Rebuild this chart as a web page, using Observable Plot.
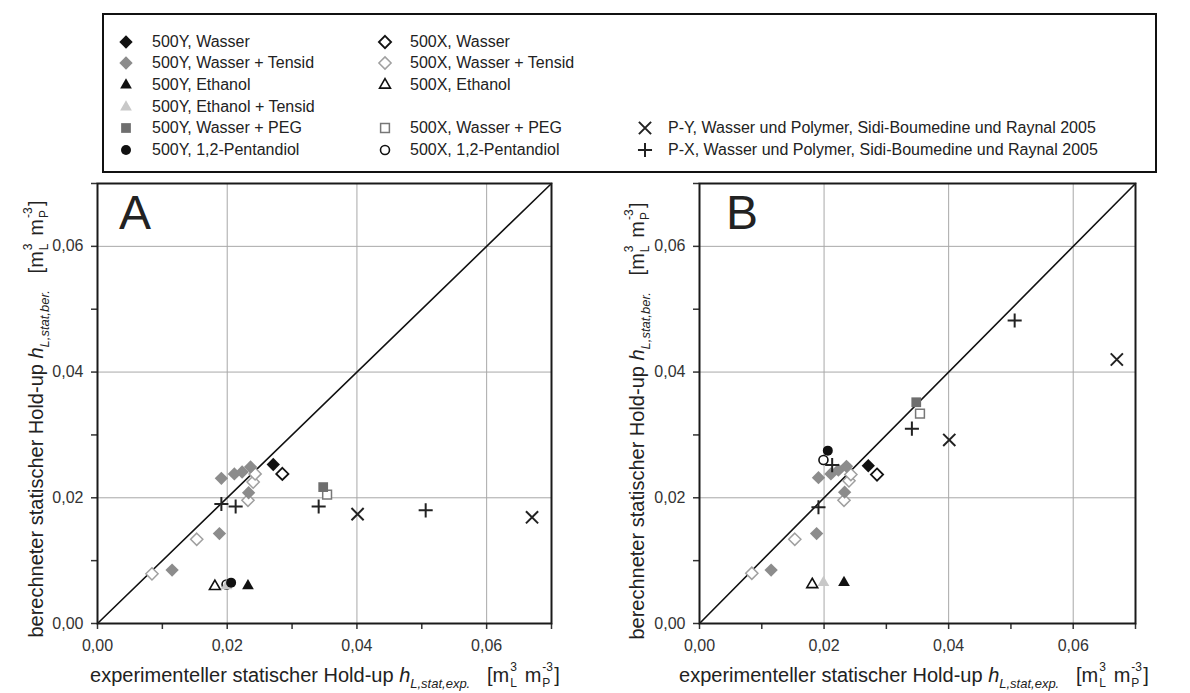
<!DOCTYPE html>
<html><head><meta charset="utf-8">
<script src="https://cdn.jsdelivr.net/npm/d3@7"></script>
<script src="https://cdn.jsdelivr.net/npm/@observablehq/plot@0.6"></script>
<style>
body{margin:0;background:#fff;font-family:"Liberation Sans",Arial,sans-serif;color:#222;}
#root{position:relative;width:1190px;height:693px;overflow:hidden;background:#fff;}
#legendbox{position:absolute;left:102px;top:13px;width:1055px;height:160px;border:2px solid #111;box-sizing:border-box;}
.li{position:absolute;font-size:16px;white-space:nowrap;line-height:20px;height:20px;color:#222;}
.ls{position:absolute;}
.panel{position:absolute;}
.lab{position:absolute;font-size:48px;line-height:48px;color:#222;}
.tt{position:absolute;font-size:20px;white-space:nowrap;line-height:24px;height:24px;text-align:center;color:#222;}
.tt i{font-style:italic;}
.sb{font-size:13px;font-style:italic;position:relative;top:6px;}
.ss{display:inline-block;position:relative;width:10px;height:20px;}
.ss .u{position:absolute;left:1px;top:-1px;font-size:12px;line-height:12px;}
.ss .d{position:absolute;left:1px;top:15px;font-size:12px;line-height:12px;}
.rot{transform-origin:0 0;}
</style></head>
<body><div id="root"><div id="legendbox"></div></div>
<script>
// ---------------- data ----------------
const seriesNames = [
  "500Y, Wasser", "500Y, Wasser + Tensid", "500Y, Ethanol", "500Y, Ethanol + Tensid",
  "500Y, Wasser + PEG", "500Y, 1,2-Pentandiol",
  "500X, Wasser", "500X, Wasser + Tensid", "500X, Ethanol",
  "500X, Wasser + PEG", "500X, 1,2-Pentandiol",
  "P-Y, Wasser und Polymer, Sidi-Boumedine und Raynal 2005",
  "P-X, Wasser und Polymer, Sidi-Boumedine und Raynal 2005"
];
// experimental hold-up (x), calculated hold-up panel A (yA) and panel B (yB)
const yWasser_x = [0.0271], yWasser_A = [0.0253], yWasser_B = [0.0251];
const yTensid_x = [0.0115, 0.0188, 0.0191, 0.0211, 0.0223, 0.0236, 0.0233];
const yTensid_A = [0.0085, 0.0143, 0.0231, 0.0238, 0.0241, 0.0249, 0.0208];
const yTensid_B = [0.0085, 0.0143, 0.0232, 0.0238, 0.0244, 0.0250, 0.0209];
const yEthanol_x = [0.0232], yEthanol_A = [0.0060], yEthanol_B = [0.0065];
const yEthTens_x = [0.0199], yEthTens_A = [0.0060], yEthTens_B = [0.0065];
const yPEG_x = [0.0348], yPEG_A = [0.0217], yPEG_B = [0.0352];
const yPent_x = [0.0206], yPent_A = [0.0065], yPent_B = [0.0275];
const xWasser_x = [0.0285], xWasser_A = [0.0238], xWasser_B = [0.0237];
const xTensid_x = [0.0084, 0.0153, 0.0232, 0.0240, 0.0243];
const xTensid_A = [0.0079, 0.0134, 0.0196, 0.0225, 0.0238];
const xTensid_B = [0.0080, 0.0134, 0.0196, 0.0227, 0.0237];
const xEthanol_x = [0.0181], xEthanol_A = [0.0059], xEthanol_B = [0.0062];
const xPEG_x = [0.0354], xPEG_A = [0.0205], xPEG_B = [0.0334];
const xPent_x = [0.0199], xPent_A = [0.0062], xPent_B = [0.0260];
const pY_x = [0.0401, 0.0670], pY_A = [0.0174, 0.0169], pY_B = [0.0292, 0.0420];
const pX_x = [0.0191, 0.0213, 0.0341, 0.0506], pX_A = [0.0190, 0.0186, 0.0186, 0.0180], pX_B = [0.0185, 0.0252, 0.0310, 0.0482];

const axisDomain = [0, 0.07];
const majorTicks = [0, 0.02, 0.04, 0.06];
const minorTicks = [0.01, 0.03, 0.05, 0.07];
const gridTicks = [0.02, 0.04, 0.06];
const tickLabels = ["0,00", "0,02", "0,04", "0,06"];

// ---------------- styles ----------------
const series = [
  {name: seriesNames[0],  x: yWasser_x,  A: yWasser_A,  B: yWasser_B},
  {name: seriesNames[1],  x: yTensid_x,  A: yTensid_A,  B: yTensid_B},
  {name: seriesNames[2],  x: yEthanol_x, A: yEthanol_A, B: yEthanol_B},
  {name: seriesNames[3],  x: yEthTens_x, A: yEthTens_A, B: yEthTens_B},
  {name: seriesNames[4],  x: yPEG_x,     A: yPEG_A,     B: yPEG_B},
  {name: seriesNames[5],  x: yPent_x,    A: yPent_A,    B: yPent_B},
  {name: seriesNames[6],  x: xWasser_x,  A: xWasser_A,  B: xWasser_B},
  {name: seriesNames[7],  x: xTensid_x,  A: xTensid_A,  B: xTensid_B},
  {name: seriesNames[8],  x: xEthanol_x, A: xEthanol_A, B: xEthanol_B},
  {name: seriesNames[9],  x: xPEG_x,     A: xPEG_A,     B: xPEG_B},
  {name: seriesNames[10], x: xPent_x,    A: xPent_A,    B: xPent_B},
  {name: seriesNames[11], x: pY_x,       A: pY_A,       B: pY_B},
  {name: seriesNames[12], x: pX_x,       A: pX_A,       B: pX_B}
];
const style = [
  {symbol: "diamond2", r: 6,   fill: "#111",    stroke: "none"},
  {symbol: "diamond2", r: 6,   fill: "#8c8c8c", stroke: "none"},
  {symbol: "triangle2",r: 5.6, fill: "#111",    stroke: "none"},
  {symbol: "triangle2",r: 5.6, fill: "#c8c8c8", stroke: "none"},
  {symbol: "square2",  r: 6.2, fill: "#6e6e6e", stroke: "none"},
  {symbol: "circle",   r: 5,   fill: "#111",    stroke: "none"},
  {symbol: "diamond2", r: 5.5, fill: "#fff",    stroke: "#111",    sw: 1.8},
  {symbol: "diamond2", r: 5.5, fill: "#fff",    stroke: "#a0a0a0", sw: 1.5},
  {symbol: "triangle2",r: 5.2, fill: "#fff",    stroke: "#111",    sw: 1.6},
  {symbol: "square2",  r: 5.6, fill: "#fff",    stroke: "#777",    sw: 1.5},
  {symbol: "circle",   r: 4.5, fill: "#fff",    stroke: "#111",    sw: 1.6},
  {symbol: "times",    r: 5.6, fill: "none",    stroke: "#222",    sw: 2},
  {symbol: "plus",     r: 4.6, fill: "none",    stroke: "#222",    sw: 2}
];
// drawing order: open (500X) under filled (500Y), crosses on top
const drawOrder = [6, 7, 8, 9, 10, 1, 0, 2, 3, 4, 5, 11, 12];

const fmt = d => tickLabels[majorTicks.indexOf(d)] ?? "";
const FONT = "'Liberation Sans', Arial, sans-serif";

function makePanel(key, opt) {
  const marks = [
    Plot.gridX({ticks: gridTicks, stroke: "#a8a8a8", strokeOpacity: 1, strokeWidth: 1}),
    Plot.gridY({ticks: gridTicks, stroke: "#a8a8a8", strokeOpacity: 1, strokeWidth: 1}),
    Plot.axisX({ticks: majorTicks, tickSize: 6, tickPadding: 10, tickFormat: fmt, label: null, color: "#333", strokeWidth: 1.5, fontSize: 16}),
    Plot.axisX({ticks: minorTicks, tickSize: 6, tickFormat: () => "", label: null, color: "#333", strokeWidth: 1.5}),
    Plot.axisY({ticks: majorTicks, tickSize: 6, tickPadding: 8, tickFormat: fmt, label: null, color: "#333", strokeWidth: 1.5, fontSize: 16}),
    Plot.axisY({ticks: minorTicks, tickSize: 6, tickFormat: () => "", label: null, color: "#333", strokeWidth: 1.5}),
    Plot.line(axisDomain, {x: d => d, y: d => d, stroke: "#111", strokeWidth: 1.6}),
  ];
  for (const i of drawOrder) {
    const s = series[i], st = style[i];
    const data = s.x.map((v, j) => ({x: v, y: s[key][j]}));
    marks.push(Plot.dot(data, {x: "x", y: "y", symbol: () => st.symbol, r: st.r,
      fill: st.fill, stroke: st.stroke, strokeWidth: st.sw || 1}));
  }
  marks.push(Plot.frame({stroke: "#1a1a1a", strokeWidth: 2}));
  return Plot.plot({
    width: opt.width, height: opt.height,
    marginLeft: opt.ml, marginRight: opt.mr, marginTop: opt.mt, marginBottom: opt.mb,
    x: {domain: axisDomain},
    y: {domain: axisDomain},
    symbol: {type: "identity"},
    style: {fontFamily: FONT, fontSize: "16px", background: "transparent", overflow: "visible"},
    marks
  });
}

const root = document.getElementById("root");
function place(el, left, top) {
  el.classList.add("panel");
  el.style.left = left + "px"; el.style.top = top + "px";
  root.appendChild(el);
}
place(makePanel("A", {width: 600, height: 490, ml: 97, mr: 49, mt: 8, mb: 42}), 0, 175);
place(makePanel("B", {width: 590, height: 490, ml: 99, mr: 55, mt: 8, mb: 42}), 600, 175);

// panel letters
for (const [t, l] of [["A", 119], ["B", 726]]) {
  const d = document.createElement("div");
  d.className = "lab"; d.textContent = t;
  d.style.left = l + "px"; d.style.top = "189px";
  root.appendChild(d);
}

// axis titles
const unit = '[m<span class="ss"><span class="u">3</span><span class="d">L</span></span> m<span class="ss" style="width:13px"><span class="u">-3</span><span class="d">P</span></span>]';
const xTitle = 'experimenteller statischer Hold-up <i>h</i><span class="sb">L,stat,exp.</span>&nbsp;&nbsp;&nbsp;' + unit;
const yTitle = 'berechneter statischer Hold-up <i>h</i><span class="sb">L,stat,ber.</span>&nbsp;&nbsp;&nbsp;' + unit;
function xT(cx, base) {
  const d = document.createElement("div");
  d.className = "tt"; d.innerHTML = xTitle;
  d.style.width = "600px"; d.style.left = (cx - 300) + "px"; d.style.top = (base - 19) + "px";
  root.appendChild(d);
}
function yT(base, cy) {
  const d = document.createElement("div");
  d.className = "tt rot"; d.innerHTML = yTitle;
  const W = 600;
  d.style.width = W + "px"; d.style.left = "0px"; d.style.top = "0px";
  d.style.transform = `translate(${base - 19}px, ${cy + W / 2}px) rotate(-90deg)`;
  root.appendChild(d);
}
xT(325, 681); xT(914, 681);
yT(42, 419); yT(643, 421);

// legend
const legendPos = [
  [126, 41.5], [126, 63], [126, 85], [126, 106.5], [126, 128], [126, 149.5],
  [385, 41.5], [385, 63], [385, 85], [385, 128], [385, 149.5],
  [645, 128], [645, 149.5]
];
const d3sym = {diamond2: d3.symbolDiamond2, triangle2: d3.symbolTriangle2, square2: d3.symbolSquare2,
  circle: d3.symbolCircle, times: d3.symbolTimes, plus: d3.symbolPlus};
series.forEach((s, i) => {
  const st = style[i], [cx, cy] = legendPos[i];
  const svg = d3.create("svg").attr("width", 20).attr("height", 20).attr("class", "ls")
    .style("left", (cx - 10) + "px").style("top", (cy - 10) + "px").style("overflow", "visible");
  svg.append("path").attr("transform", "translate(10,10)")
    .attr("d", d3.symbol(d3sym[st.symbol], Math.PI * st.r * st.r)())
    .attr("fill", st.fill).attr("stroke", st.stroke).attr("stroke-width", st.sw || 1);
  root.appendChild(svg.node());
  const t = document.createElement("div");
  t.className = "li"; t.textContent = s.name;
  t.style.left = (cx < 200 ? 152 : cx < 500 ? 410 : 668) + "px";
  t.style.top = (cy - 10) + "px";
  root.appendChild(t);
});
</script>
</body></html>
